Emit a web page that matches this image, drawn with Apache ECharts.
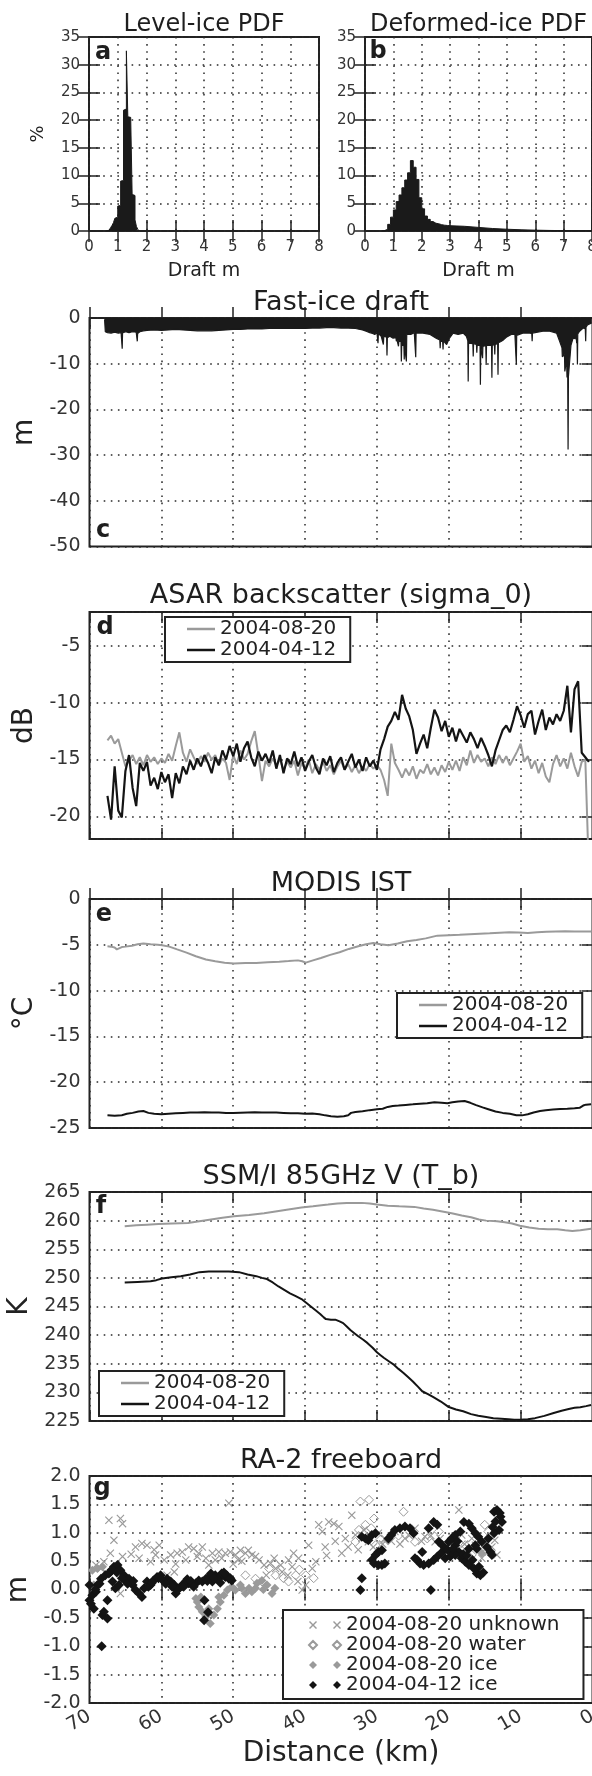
<!DOCTYPE html>
<html><head><meta charset="utf-8">
<script src="https://cdn.jsdelivr.net/npm/echarts@6/dist/echarts.min.js"></script>
<style>html,body{margin:0;padding:0;background:#fff}#chart{width:592px;height:1776px}</style>
</head><body><div id="chart"></div>
<script>
// ---------- DATA ----------
const levelEdges = [0.60,0.65,0.70,0.75,0.80,0.85,0.90,0.95,1.00,1.05,1.10,1.15,1.20,1.25,1.30,1.35,1.40,1.45,1.50,1.55,1.60,1.65,1.70,1.75];
const levelPct   = [0.05,0.15,0.3,0.6,1.0,1.5,2.3,2.5,4.5,4.6,9.0,9.1,21.8,22.0,32.5,20.6,20.5,20.3,6.6,6.4,2.0,0.8,0.3];
const deformedEdges = [0.6,0.7,0.8,0.9,1.0,1.1,1.2,1.3,1.4,1.5,1.6,1.7,1.8,1.9,2.0,2.1,2.2,2.3,2.4,2.5,2.6,2.7,2.8,2.9,3.0,3.5,4.0,4.5,5.0,5.5,6.0,6.5,7.0,7.5,8.0];
const deformedPct   = [0.1,0.3,1.2,2.5,3.8,5.3,6.5,7.8,9.2,10.5,12.7,11.5,9.3,6.0,4.0,2.7,2.1,1.7,1.4,1.3,1.15,1.05,1.0,0.95,0.85,0.65,0.45,0.32,0.22,0.15,0.1,0.07,0.05,0.04];

const fastIceDraft = [[67.9,-0.3],[67.8,-3.0],[67.5,-3.2],[67.0,-3.3],[66.5,-3.1],[66.0,-3.3],[65.6,-3.2],[65.5,-3.4],[65.45,-6.7],[65.4,-3.3],[65.0,-3.0],[64.5,-3.2],[64.0,-3.0],[63.5,-3.1],[63.4,-3.3],[63.35,-5.1],[63.3,-3.4],[63.0,-3.0],[62.5,-2.8],[62.0,-2.7],[61.0,-2.6],[60.0,-2.7],[59.0,-2.6],[58.0,-2.5],[57.0,-2.6],[56.0,-2.7],[55.0,-2.8],[54.0,-2.8],[53.0,-2.8],[52.0,-2.7],[51.0,-2.6],[50.0,-2.5],[49.0,-2.5],[48.0,-2.4],[47.0,-2.4],[46.0,-2.4],[45.0,-2.3],[44.0,-2.3],[43.0,-2.3],[42.0,-2.3],[41.0,-2.3],[40.0,-2.3],[39.0,-2.2],[38.0,-2.2],[37.0,-2.1],[36.0,-2.1],[35.0,-2.2],[34.0,-2.2],[33.0,-2.3],[32.0,-2.6],[31.5,-2.9],[31.0,-3.2],[30.6,-3.4],[30.3,-3.6],[30.0,-3.2],[29.9,-3.3],[29.85,-5.5],[29.8,-3.4],[29.4,-4.0],[29.15,-4.1],[29.1,-5.8],[29.05,-4.0],[28.65,-4.2],[28.6,-8.2],[28.55,-4.3],[28.2,-4.0],[27.75,-4.4],[27.35,-4.3],[27.3,-5.1],[27.25,-4.5],[27.05,-4.6],[27.0,-6.2],[26.95,-5.0],[26.65,-5.2],[26.6,-9.5],[26.55,-6.0],[26.25,-6.0],[26.2,-9.1],[26.15,-6.2],[25.95,-6.4],[25.9,-9.5],[25.85,-3.6],[25.3,-3.6],[24.8,-3.2],[24.65,-3.4],[24.6,-8.6],[24.55,-3.3],[23.6,-3.3],[22.6,-3.6],[21.7,-4.5],[21.25,-4.8],[21.2,-6.6],[21.15,-5.0],[20.85,-5.2],[20.8,-6.9],[20.75,-5.0],[20.3,-5.8],[19.9,-4.4],[19.4,-3.3],[18.7,-3.6],[18.0,-3.3],[17.55,-4.0],[17.35,-5.0],[17.3,-13.9],[17.25,-5.5],[16.65,-5.6],[16.6,-8.4],[16.55,-5.6],[16.15,-5.8],[16.1,-7.6],[16.05,-6.0],[15.65,-6.0],[15.6,-14.6],[15.55,-6.4],[15.35,-6.4],[15.3,-8.8],[15.25,-6.2],[14.85,-6.0],[14.8,-10.3],[14.75,-6.0],[14.05,-6.0],[14.0,-13.1],[13.95,-6.0],[13.65,-5.8],[13.6,-8.0],[13.55,-5.8],[13.2,-5.6],[13.15,-12.4],[13.1,-5.4],[12.8,-5.2],[12.4,-4.8],[12.0,-4.2],[11.3,-3.6],[10.8,-3.6],[10.65,-3.8],[10.6,-10.2],[10.55,-3.8],[9.7,-3.3],[8.75,-3.3],[8.45,-3.4],[8.4,-5.1],[8.35,-3.3],[6.9,-2.9],[5.95,-2.9],[5.0,-3.3],[4.6,-5.0],[4.25,-6.5],[4.2,-8.5],[3.9,-8.0],[3.85,-11.7],[3.6,-9.0],[3.55,-13.0],[3.45,-12.0],[3.4,-28.8],[3.35,-12.8],[3.1,-13.1],[3.0,-6.0],[2.7,-4.4],[2.25,-4.6],[2.2,-5.5],[2.15,-4.4],[2.1,-10.2],[2.05,-3.5],[1.8,-2.9],[1.3,-2.2],[1.0,-2.4],[0.95,-5.1],[0.9,-2.0],[0.7,-1.5],[0.1,-1.1]];

const distASAR = [67.5,67,66.5,66,65.5,65,64.5,64,63.5,63,62.5,62,61.5,61,60.5,60,59.5,59,58.5,58,57.5,57,56.5,56,55.5,55,54.5,54,53.5,53,52.5,52,51.5,51,50.5,50,49.5,49,48.5,48,47.5,47,46.5,46,45.5,45,44.5,44,43.5,43,42.5,42,41.5,41,40.5,40,39.5,39,38.5,38,37.5,37,36.5,36,35.5,35,34.5,34,33.5,33,32.5,32,31.5,31,30.5,30,29.5,29,28.5,28,27.5,27,26.5,26,25.5,25,24.5,24,23.5,23,22.5,22,21.5,21,20.5,20,19.5,19,18.5,18,17.5,17,16.5,16,15.5,15,14.5,14,13.5,13,12.5,12,11.5,11,10.5,10,9.5,9,8.5,8,7.5,7,6.5,6,5.5,5,4.5,4,3.5,3,2.5,2,1.5,1,0.5];
const asarAug = [-13.3,-12.9,-13.6,-13.2,-14.4,-15.6,-15.1,-14.6,-15.4,-14.8,-15.5,-14.6,-15.2,-14.8,-15.4,-14.9,-15.3,-14.5,-15.1,-13.8,-12.6,-14.4,-15.2,-14.1,-14.8,-15.4,-14.7,-15.2,-14.4,-15.0,-14.6,-15.5,-14.9,-15.3,-16.8,-14.6,-15.4,-14.2,-15.0,-14.5,-13.4,-12.5,-14.6,-16.9,-15.1,-15.6,-14.9,-15.5,-15.0,-15.9,-15.2,-15.7,-15.1,-16.4,-15.3,-15.8,-15.0,-16.2,-15.4,-15.9,-15.2,-16.0,-15.5,-16.3,-15.6,-15.1,-15.9,-15.4,-16.1,-15.5,-16.2,-15.6,-16.0,-15.4,-15.8,-15.5,-15.9,-16.8,-18.2,-13.6,-15.3,-15.9,-16.6,-15.8,-16.4,-15.6,-16.7,-15.9,-16.2,-15.4,-16.3,-15.7,-16.4,-15.5,-16.1,-15.2,-15.9,-15.1,-16.0,-14.8,-15.5,-14.2,-15.3,-14.6,-15.2,-14.9,-15.6,-14.8,-15.4,-14.6,-15.3,-14.7,-15.5,-14.9,-14.3,-13.6,-15.2,-14.7,-15.8,-15.1,-16.2,-15.3,-16.5,-17.0,-15.4,-14.6,-15.6,-14.9,-15.8,-14.4,-15.6,-16.5,-15.2,-15.0,-25.0];
const asarApr = [-18.2,-20.3,-15.6,-19.5,-20.1,-16.0,-14.6,-17.5,-19.1,-15.3,-16.0,-15.2,-17.3,-16.6,-17.6,-16.1,-17.0,-16.3,-18.4,-16.2,-17.1,-15.6,-16.3,-15.1,-15.9,-14.9,-15.6,-14.6,-15.3,-16.2,-14.8,-15.5,-14.2,-15.0,-13.8,-14.7,-13.6,-15.2,-14.0,-13.4,-14.8,-15.6,-14.3,-15.1,-14.5,-15.3,-14.2,-15.8,-14.6,-16.2,-14.9,-15.4,-14.3,-15.6,-14.8,-16.0,-15.2,-14.6,-15.7,-16.3,-14.9,-15.5,-14.7,-16.1,-15.3,-14.8,-15.9,-15.2,-14.5,-15.7,-15.0,-16.0,-14.8,-15.6,-15.1,-15.9,-14.1,-13.2,-12.1,-11.6,-10.8,-11.5,-9.3,-10.5,-11.2,-12.4,-14.5,-13.6,-12.8,-14.0,-12.2,-10.6,-11.3,-12.5,-11.6,-13.0,-12.2,-13.4,-12.3,-12.9,-13.5,-12.6,-13.2,-14.0,-13.1,-13.8,-14.6,-15.6,-14.2,-13.3,-12.4,-12.0,-12.6,-11.5,-10.3,-11.1,-12.2,-11.0,-10.7,-12.8,-11.6,-10.6,-12.4,-11.3,-11.9,-11.0,-11.6,-10.7,-8.5,-12.6,-8.8,-8.1,-14.4,-14.8,-15.2];

const istAug = [[67.5,-5.16],[67,-5.2],[66.5,-5.3],[66.2,-5.5],[66.0,-5.3],[65.5,-5.25],[65,-5.2],[64.1,-5.1],[63.3,-4.95],[62.5,-4.87],[61.5,-4.95],[60.5,-5.0],[59.9,-5.05],[58.9,-5.2],[57.8,-5.5],[56.5,-5.85],[55.2,-6.25],[53.8,-6.6],[52.5,-6.8],[51.2,-6.95],[49.9,-7.05],[48.3,-7.0],[46.8,-6.98],[45.2,-6.9],[43.6,-6.84],[42.3,-6.78],[41,-6.7],[40.4,-6.8],[39.9,-6.95],[38.9,-6.7],[37.8,-6.44],[36.5,-6.1],[35.2,-5.82],[33.9,-5.45],[32.6,-5.16],[31.5,-4.95],[30.5,-4.8],[29.5,-4.95],[28.4,-5.05],[27.1,-4.85],[25.8,-4.62],[24.5,-4.48],[23.2,-4.3],[21.6,-4.0],[20,-3.95],[18.5,-3.9],[16.4,-3.82],[14.3,-3.75],[12.9,-3.68],[11.6,-3.62],[10.3,-3.66],[9,-3.7],[7.7,-3.62],[6.4,-3.58],[5.1,-3.55],[3.8,-3.52],[2.5,-3.55],[1.2,-3.56],[0.2,-3.56]];
const istApr = [[67.5,-23.6],[66.5,-23.65],[65.5,-23.6],[64.8,-23.45],[64,-23.35],[63.2,-23.2],[62.5,-23.15],[61.8,-23.35],[61,-23.45],[60,-23.5],[59,-23.45],[58,-23.4],[57,-23.35],[56,-23.3],[55,-23.3],[54,-23.28],[53,-23.3],[52,-23.32],[51,-23.35],[50,-23.36],[49,-23.33],[48,-23.3],[47,-23.28],[46,-23.3],[45,-23.3],[44,-23.32],[43,-23.35],[42,-23.38],[41,-23.4],[40,-23.45],[39,-23.42],[38,-23.5],[37.2,-23.62],[36.4,-23.72],[35.5,-23.76],[34.6,-23.72],[34,-23.6],[33.6,-23.35],[33,-23.25],[32,-23.18],[31,-23.05],[30,-22.95],[29.2,-22.9],[28.5,-22.7],[27.8,-22.6],[27,-22.55],[26,-22.48],[25,-22.42],[24,-22.35],[23,-22.3],[22,-22.2],[21,-22.25],[20.2,-22.3],[19.5,-22.2],[18.7,-22.1],[17.8,-22.05],[17,-22.25],[16.2,-22.5],[15.3,-22.75],[14.5,-22.95],[13.5,-23.2],[12.5,-23.35],[11.5,-23.45],[10.6,-23.6],[9.8,-23.62],[9.0,-23.5],[8.2,-23.3],[7.3,-23.15],[6.5,-23.05],[5.5,-22.98],[4.5,-22.92],[3.5,-22.9],[2.5,-22.85],[1.8,-22.8],[1.3,-22.55],[0.9,-22.45],[0.2,-22.42]];

const tbAug = [[65.1,259.0],[63.5,259.2],[62,259.3],[60.4,259.4],[58.5,259.5],[56.3,259.6],[54.7,259.9],[53.1,260.2],[51.5,260.5],[49.9,260.75],[47.8,261.0],[45.7,261.3],[43.9,261.65],[42.1,262.0],[40.5,262.3],[38.9,262.5],[36.8,262.8],[35.5,263.0],[34.2,263.1],[32.1,263.1],[31,263.0],[30,262.8],[28.5,262.6],[26.9,262.5],[24.8,262.4],[23.5,262.1],[22.2,261.9],[20.9,261.6],[19.6,261.3],[18.2,260.9],[16.9,260.6],[15.8,260.2],[14.8,260.0],[13.3,259.9],[12.2,259.7],[11.2,259.5],[10.1,259.1],[8.8,258.8],[7.5,258.6],[6.2,258.5],[4.9,258.5],[3.8,258.3],[2.8,258.2],[1.7,258.3],[0.2,258.6]];
const tbApr = [[65.1,249.2],[63.3,249.3],[61.5,249.4],[60.7,249.6],[59.9,249.9],[58.6,250.1],[57.3,250.3],[56,250.6],[54.7,251.0],[53.4,251.1],[52.1,251.1],[50.6,251.1],[49.2,251.0],[48,250.6],[46.8,250.3],[46,250.0],[45.3,249.8],[44.5,249.2],[43.7,248.5],[42.9,247.9],[42.1,247.3],[41.3,246.8],[40.5,246.3],[39.8,245.6],[39.2,245.0],[38.5,244.3],[37.9,243.7],[37.4,243.1],[37.1,242.8],[36.4,242.7],[35.8,242.7],[35.2,242.4],[34.7,242.1],[34.2,241.5],[33.7,240.9],[33.1,240.3],[32.6,239.8],[31.9,239.2],[31.3,238.6],[30.6,237.8],[30,237.0],[29.5,236.5],[29,236.0],[28.3,235.4],[27.6,234.8],[27,234.1],[26.3,233.4],[25.6,232.6],[25,231.9],[24.3,231.0],[23.7,230.2],[22.9,229.7],[22.2,229.2],[21.1,228.4],[20.1,227.5],[19,227.0],[18,226.7],[16.9,226.2],[15.9,225.9],[14.8,225.7],[13.8,225.5],[12.7,225.4],[11.7,225.3],[10.9,225.2],[10.1,225.2],[9,225.3],[8,225.5],[6.7,225.9],[5.4,226.4],[4.3,226.8],[3.3,227.1],[2.5,227.3],[1.7,227.4],[0.9,227.6],[0.2,227.8]];

const fbUnknown = [[69.1,0.43],[68.4,0.37],[67.8,0.31],[68,0.49],[67.3,1.22],[65.7,1.25],[65.4,1.16],[66.6,0.87],[67.1,0.64],[65.4,0.58],[65.7,-0.07],[63.6,0.75],[62.7,0.81],[62,0.78],[60.3,0.78],[63.1,0.55],[61.5,0.49],[60.8,0.61],[59.6,0.52],[58.7,0.61],[57.8,0.64],[57.1,0.66],[56.2,0.75],[55.5,0.72],[54.8,0.64],[53.8,0.55],[52.9,0.64],[52,0.66],[51.1,0.64],[50.6,1.52],[50.4,0.66],[49.7,0.61],[49,0.69],[48.3,0.64],[47.4,0.61],[46.4,0.52],[45.7,0.43],[44.8,0.46],[44.1,0.37],[43.2,0.31],[42.3,0.52],[41.6,0.64],[40.9,0.55],[40.4,-0.01],[39.9,0.08],[39.5,0.78],[39,0.37],[38.5,0.49],[38.1,1.14],[37.6,1.02],[37.2,0.75],[36.7,1.19],[36,1.16],[35.3,1.11],[34.9,0.64],[34.4,0.9],[33.5,1.31],[33,0.96],[32.1,0.9],[31.2,0.84],[29.8,0.99],[28.9,0.9],[27.5,1.02],[26.1,0.9],[24.7,1.08],[23.3,0.93],[21.9,0.84],[20.5,0.75],[18.6,1.4],[18.2,0.96],[17.2,0.66],[16.3,0.78],[15.4,0.55],[14.5,0.66],[13.6,0.87],[13.3,0.61],[59.2,0.25],[58.2,0.31],[56.6,0.52],[54.3,0.75],[53.4,0.43],[52.5,0.52],[51.6,0.55],[49.3,0.52],[47.9,0.69],[46.9,0.58],[45.4,0.25],[44.3,0.55],[43.4,0.43],[42.4,0.25],[41.8,0.4],[41,0.14],[64.2,0.62],[61,0.7],[58,0.45],[55,0.58],[50,0.45],[48.8,0.5],[37,0.6],[35.8,0.85],[34,0.75],[32.6,0.7],[31.8,1.05],[30.5,0.75],[29.2,0.8],[28,0.85],[26.8,0.8],[25.5,0.95],[23.8,0.85],[22.5,0.95],[21.2,0.9],[19.5,0.85],[17.8,0.8],[16.8,0.9],[15,0.7],[14,0.75]];
const fbWater = [[32.3,1.55],[31.1,1.58],[30.4,1.25],[26.3,1.37],[33,0.84],[31.6,1.14],[32.5,1.05],[30.2,0.78],[21.4,1.02],[15,1.14],[14.5,1.02],[17.7,0.78],[24.7,0.84],[20.1,0.69],[16.8,0.61],[39.9,0.25],[41.3,0.25],[42.3,0.14],[44.1,0.25],[45,0.37],[46,0.14],[46.9,0.19],[48.3,0.25],[31.5,1.0],[30.8,1.08],[29.5,0.88],[27,0.95],[23,0.9],[19,0.75],[38.8,0.2],[40.8,0.35],[43,0.2]];
const fbAugIce = [[55.2,-0.16],[54.8,-0.31],[54.3,-0.39],[53.8,-0.48],[53.2,-0.6],[52.7,-0.45],[52.2,-0.34],[51.8,-0.22],[51.3,-0.1],[50.8,-0.01],[55,-0.22],[54.5,-0.13],[53.4,-0.34],[52,-0.13],[49.7,-0.01],[48.8,0.02],[48.3,-0.07],[47.4,-0.04],[46.7,0.11],[46,0.16],[45.3,0.08],[44.6,-0.07],[49,0.08],[47.8,0.02],[46.9,0.02],[69.6,0.34],[68.9,0.37],[68.2,0.4],[69.4,0.08],[19.1,0.69],[17.7,0.66],[16.3,0.75],[15.4,0.64],[28.5,0.87],[50.2,0.05],[45.8,0.0],[44.2,0.02]];
const fbAprIce = [[70,0.08],[70,-0.19],[69.6,-0.1],[69.4,-0.34],[69.1,-0.04],[68.9,0.08],[68.4,0.19],[68.2,-0.45],[68,-0.39],[67.5,-0.51],[67.5,-0.19],[68.3,-1.0],[67.8,0.25],[67.1,0.31],[66.6,0.4],[66.1,0.43],[65.7,0.34],[65.2,0.25],[66.8,0.14],[66.4,0.02],[65.9,0.08],[64.9,0.14],[64.5,0.19],[64,0.08],[63.6,-0.01],[63.1,-0.07],[62.7,-0.13],[62.4,0.02],[62,0.14],[61.5,0.08],[61.1,0.16],[60.6,0.22],[60.1,0.25],[59.6,0.14],[59.2,0.19],[58.7,0.14],[58.2,0.08],[58,-0.07],[57.5,0.02],[57.1,0.08],[56.6,0.14],[56.2,0.11],[55.7,0.08],[55.2,0.11],[54.8,0.16],[54.3,0.14],[53.8,0.19],[53.4,0.22],[52.9,0.14],[52.5,0.25],[52,0.19],[51.6,0.28],[51.1,0.22],[50.6,0.19],[50.2,0.16],[54,-0.19],[54.05,-0.54],[53.5,-0.4],[57.8,-0.01],[69.8,-0.25],[69.2,0.0],[68.6,0.1],[67.3,0.28],[66.9,0.35],[66.2,0.3],[65.5,0.2],[64.7,0.1],[63.9,0.15],[61.8,0.05],[61.3,0.12],[60.4,0.2],[59.9,0.18],[59.4,0.1],[58.5,0.05],[56.9,0.05],[56.4,0.18],[55.9,0.15],[55.5,0.05],[53.6,0.15],[53.1,0.28],[52.7,0.2],[51.8,0.12],[51.3,0.3],[50.9,0.25],[50.4,0.2],[32.1,0.93],[31.6,0.9],[31.2,0.87],[30.7,0.96],[30.2,0.99],[29.8,0.66],[29.3,0.69],[30.2,0.61],[30.7,0.52],[30.4,0.46],[29.8,0.43],[29.3,0.43],[28.9,0.46],[32.1,0.2],[32.3,-0.01],[28.4,0.9],[28,0.96],[27.5,1.05],[26.8,1.08],[26.1,1.11],[25.4,1.08],[24.9,0.99],[24.4,0.52],[24,0.46],[23.5,0.43],[22.8,0.46],[22.1,0.52],[21.6,0.58],[22.5,-0.01],[22.8,1.08],[22.1,1.19],[21.6,1.14],[21.4,0.84],[20.9,0.78],[20.5,0.72],[20,0.84],[19.6,0.9],[19.1,0.78],[18.6,0.66],[18.2,0.55],[17.7,0.49],[17.2,0.43],[16.5,0.37],[16.1,0.28],[15.6,0.25],[17.9,1.19],[17.2,1.16],[16.8,1.08],[16.3,0.99],[15.9,0.93],[15.4,0.84],[14.7,0.75],[14.2,0.66],[14,0.61],[13.7,1.37],[13.3,1.4],[12.8,1.28],[12.6,1.19],[13,1.05],[13.7,0.99],[20.5,0.55],[19.8,0.58],[19.1,0.61],[17.2,0.72],[16.3,0.78],[16.1,0.72],[23.7,0.66],[24.7,0.55],[19.6,0.66],[19.1,0.96],[18.4,1.02],[21,0.65],[20.2,0.7],[19.4,0.72],[18.8,0.85],[18,0.62],[17.5,0.6],[16.7,0.52],[15.8,0.4],[15.2,0.3],[14.5,0.9],[13.9,1.1],[13.5,1.2],[12.9,1.35]];

// ---------- STYLE / LAYOUT ----------
const FONT = 'DejaVu Sans';
const FRAME = '#222';
const LBL = '#333';
const GRAY = '#9a9a9a';
const BLACK = '#141414';
const GRIDS = [
  [89, 37, 230, 194],
  [365, 37, 227, 194],
  [89.5, 318, 503, 228.5],
  [89.5, 612, 503, 227],
  [89.5, 899, 503, 229],
  [89.5, 1192, 503, 229],
  [89.5, 1476, 503, 227]
];
const tick = {show:true, inside:true, length:11, lineStyle:{color:FRAME, width:1.5}};
const dotted = {show:true, lineStyle:{color:'#2a2a2a', width:1.5, type:[1.6,5.5]}};

const option = {
  animation:false,
  backgroundColor:'#fff',
  textStyle:{fontFamily:FONT},
  grid: GRIDS.map(g=>({left:g[0], top:g[1], width:g[2], height:g[3], show:true, borderColor:FRAME, borderWidth:2, backgroundColor:'rgba(0,0,0,0)', containLabel:false, outerBoundsMode:'none'})),
  xAxis:[], yAxis:[], series:[], legend:[], graphic:[]
};

function addAxes(gi, xc, yc){
  const xb = {gridIndex:gi, type:'value', min:xc.min, max:xc.max, interval:xc.interval, inverse:!!xc.inverse,
    axisLine:{show:false}, axisTick:tick, splitLine:dotted,
    axisLabel: xc.labels ? {show:true, fontSize:xc.fontSize, color:LBL, margin:xc.margin, rotate:xc.rotate||0, fontFamily:FONT} : {show:false}};
  if (xc.name){ Object.assign(xb,{name:xc.name, nameLocation:'middle', nameGap:xc.nameGap, nameTextStyle:{fontSize:xc.nameSize, color:'#222', fontFamily:FONT}}); }
  option.xAxis.push(xb);
  option.xAxis.push({gridIndex:gi, type:'value', position:'top', min:xc.min, max:xc.max, interval:xc.interval, inverse:!!xc.inverse,
    axisLine:{show:false}, axisTick:tick, splitLine:{show:false}, axisLabel:{show:false}});
  const yl = {gridIndex:gi, type:'value', position:'left', min:yc.min, max:yc.max, interval:yc.interval, splitNumber:yc.splitNumber,
    axisLine:{show:false}, axisTick:tick, splitLine:dotted,
    axisLabel:{show:true, fontSize:yc.fontSize, color:LBL, margin:9, fontFamily:FONT, formatter:yc.formatter,
      showMinLabel: yc.hideEnds ? false : true, showMaxLabel: yc.hideEnds ? false : true}};
  if (yc.name){ Object.assign(yl,{name:yc.name, nameLocation:'middle', nameGap:yc.nameGap, nameRotate:90, nameTextStyle:{fontSize:yc.nameSize, color:'#222', fontFamily:FONT}}); }
  option.yAxis.push(yl);
  option.yAxis.push({gridIndex:gi, type:'value', position:'right', min:yc.min, max:yc.max, interval:yc.interval, splitNumber:yc.splitNumber,
    axisLine:{show:false}, axisTick:tick, splitLine:{show:false}, axisLabel:{show:false}});
}

const xDraft = {min:0, max:8, interval:1, labels:true, fontSize:15, margin:9, name:'Draft m', nameGap:31, nameSize:19};
const xKm = {min:0, max:70, interval:10, inverse:true, labels:false};
addAxes(0, xDraft, {min:0, max:35, interval:5, fontSize:15, name:'%', nameGap:42, nameSize:18});
addAxes(1, xDraft, {min:0, max:35, interval:5, fontSize:15});
addAxes(2, xKm, {min:-50, max:0, interval:10, fontSize:19, name:'m', nameGap:46, nameSize:28});
addAxes(3, xKm, {min:-22, max:-2, splitNumber:4, hideEnds:true, fontSize:19, name:'dB', nameGap:48, nameSize:28});
addAxes(4, xKm, {min:-25, max:0, interval:5, fontSize:19, name:'°C', nameGap:50, nameSize:28});
addAxes(5, xKm, {min:225, max:265, interval:5, fontSize:19, name:'K', nameGap:51, nameSize:28});
addAxes(6, {min:0, max:70, interval:10, inverse:true, labels:true, fontSize:19, margin:12, rotate:30, name:'Distance (km)', nameGap:37, nameSize:28},
  {min:-2, max:2, interval:0.5, fontSize:19, name:'m', nameGap:50, nameSize:28, formatter:v=>v.toFixed(1)});

function histOutline(edges, vals){
  const pts=[[edges[0],0]];
  for(let i=0;i<vals.length;i++){ pts.push([edges[i],vals[i]],[edges[i+1],vals[i]]); }
  pts.push([edges[edges.length-1],0]);
  return pts;
}
function idx(gi){ return {xAxisIndex:2*gi, yAxisIndex:2*gi}; }
function lineS(gi, name, data, color, w){
  return Object.assign({type:'line', name, data, symbol:'none', showSymbol:false, silent:true, clip:true,
    lineStyle:{color, width:w}, itemStyle:{color}}, idx(gi));
}

option.series.push(Object.assign(lineS(0,'level',histOutline(levelEdges,levelPct),'#1a1a1a',1),{areaStyle:{color:'#1a1a1a',opacity:1,origin:'start'}}));
option.series.push(Object.assign(lineS(1,'deformed',histOutline(deformedEdges,deformedPct),'#1a1a1a',1),{areaStyle:{color:'#1a1a1a',opacity:1,origin:'start'}}));
option.series.push(Object.assign(lineS(2,'draft',fastIceDraft,'#1a1a1a',1.2),{areaStyle:{color:'#1a1a1a',opacity:1,origin:'end'}}));
option.series.push(lineS(3,'2004-08-20',distASAR.map((d,i)=>[d,asarAug[i]]),GRAY,2));
option.series.push(lineS(3,'2004-04-12',distASAR.map((d,i)=>[d,asarApr[i]]),BLACK,2.2));
option.series.push(lineS(4,'2004-08-20',istAug,GRAY,2));
option.series.push(lineS(4,'2004-04-12',istApr,BLACK,2));
option.series.push(lineS(5,'2004-08-20',tbAug,GRAY,2));
option.series.push(lineS(5,'2004-04-12',tbApr,BLACK,2));

const CROSS = 'path://M0,1L1,0L5,4L9,0L10,1L6,5L10,9L9,10L5,6L1,10L0,9L4,5Z';
function scat(name, data, symbol, size, itemStyle){
  return Object.assign({type:'scatter', name, data, symbol, symbolSize:size, silent:true, itemStyle:Object.assign({opacity:1}, itemStyle)}, idx(6));
}
option.series.push(scat('2004-08-20 unknown', fbUnknown, CROSS, 8, {color:GRAY}));
option.series.push(scat('2004-08-20 water', fbWater, 'diamond', 9, {color:'rgba(0,0,0,0)', borderColor:GRAY, borderWidth:1}));
option.series.push(scat('2004-08-20 ice', fbAugIce, 'diamond', 9, {color:GRAY}));
option.series.push(scat('2004-04-12 ice', fbAprIce, 'diamond', 10, {color:BLACK}));

function lineLegend(left, top){
  return {left, top, orient:'vertical', selectedMode:false, backgroundColor:'#fff', borderColor:FRAME, borderWidth:2, borderRadius:0,
    padding:[2,14,2,22], itemGap:1, itemWidth:28, itemHeight:2.5,
    textStyle:{fontSize:20, color:'#222', fontFamily:FONT, lineHeight:20},
    data:[{name:'2004-08-20', icon:'rect'},{name:'2004-04-12', icon:'rect'}]};
}
option.legend.push(lineLegend(165, 617));
option.legend.push(lineLegend(397, 993));
option.legend.push(lineLegend(99, 1371));
const CROSS2 = 'path://M0,1L1,0L4,3L7,0L8,1L5,4L8,7L7,8L4,5L1,8L0,7L3,4Z M24,1L25,0L28,3L31,0L32,1L29,4L32,7L31,8L28,5L25,8L24,7L27,4Z';
const DIAM2 = 'path://M4,0L8,4L4,8L0,4Z M28,0L32,4L28,8L24,4Z';
option.legend.push({left:283, top:1610, orient:'vertical', selectedMode:false, backgroundColor:'#fff', borderColor:FRAME, borderWidth:2, borderRadius:0,
  padding:[5,24,4,25], itemGap:0, itemWidth:32, itemHeight:8,
  textStyle:{fontSize:20, color:'#222', fontFamily:FONT, lineHeight:19.5},
  data:[{name:'2004-08-20 unknown', icon:CROSS2},{name:'2004-08-20 water', icon:DIAM2},{name:'2004-08-20 ice', icon:DIAM2},{name:'2004-04-12 ice', icon:DIAM2}]});

function txt(x, y, text, size, weight){
  return {type:'text', x, y, silent:true, z:100,
    style:{text, fontSize:size, fontWeight:weight||'normal', fontFamily:FONT, fill:'#1e1e1e', align:'center', verticalAlign:'middle', textAlign:'center', textVerticalAlign:'middle'}};
}
option.graphic.push(txt(204, 25, 'Level-ice PDF', 24));
option.graphic.push(txt(478.5, 25, 'Deformed-ice PDF', 24));
option.graphic.push(txt(341, 303, 'Fast-ice draft', 27));
option.graphic.push(txt(341, 596, 'ASAR backscatter (sigma_0)', 27));
option.graphic.push(txt(341, 884, 'MODIS IST', 27));
option.graphic.push(txt(341, 1177, 'SSM/I 85GHz V (T_b)', 27));
option.graphic.push(txt(341, 1461, 'RA-2 freeboard', 27));
option.graphic.push(txt(103, 53, 'a', 24, 'bold'));
option.graphic.push(txt(378, 52, 'b', 24, 'bold'));
option.graphic.push(txt(103, 531, 'c', 24, 'bold'));
option.graphic.push(txt(105, 628, 'd', 24, 'bold'));
option.graphic.push(txt(104, 915, 'e', 24, 'bold'));
option.graphic.push(txt(101, 1207, 'f', 24, 'bold'));
option.graphic.push(txt(102, 1489, 'g', 24, 'bold'));

const chart = echarts.init(document.getElementById('chart'), null, {renderer:'canvas'});
chart.setOption(option);
</script></body></html>
